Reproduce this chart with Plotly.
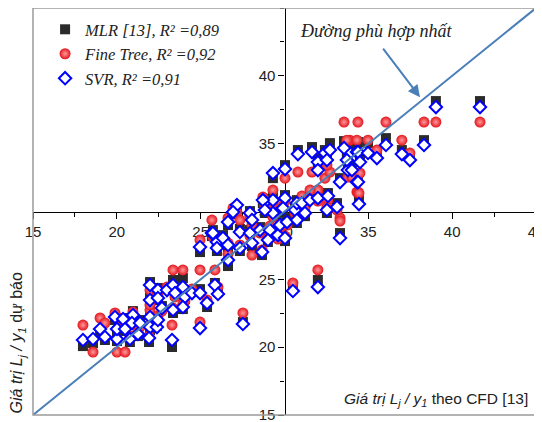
import plotly.graph_objects as go

# CFD reference values (x) and predictions of the three models
cfd = [17.98, 18.58, 19.00, 19.29, 20.01, 20.01, 19.89, 20.37, 20.49, 20.78,
       20.96, 20.90, 21.26, 21.38, 21.98, 21.98, 21.92, 22.39, 22.45, 22.69,
       21.98, 21.98, 22.45, 22.99, 23.35, 22.45, 23.47, 23.94, 24.06, 23.94,
       23.35, 23.29, 24.96, 24.48, 24.96, 25.85, 26.03, 25.38, 27.52, 24.96,
       25.67, 25.97, 25.97, 26.33, 26.63, 26.63, 26.63, 27.16, 27.34, 27.34,
       27.94, 28.06, 27.94, 28.06, 28.66, 28.54, 28.83, 29.31, 29.31, 29.13,
       29.01, 29.61, 29.73, 30.03, 30.15, 30.62, 30.74, 30.74, 30.03, 25.73,
       26.93, 30.80, 31.64, 32.41, 32.71, 31.99, 32.53, 31.99, 29.31, 30.03,
       33.31, 33.78, 33.90, 34.32, 34.32, 28.71, 31.04, 31.52, 31.99, 32.59,
       33.13, 32.53, 31.22, 29.91, 28.83, 33.55, 34.38, 34.98, 36.05, 35.51,
       37.00, 37.48, 38.32, 39.03, 41.66, 34.02, 34.38, 34.50, 33.72, 33.31,
       34.44, 30.50, 31.99]

svr = [20.53, 20.60, 21.34, 20.75, 20.60, 21.34, 22.22, 22.07, 21.34, 20.60,
       22.37, 21.78, 20.97, 21.78, 22.22, 21.48, 20.67, 21.48, 22.00, 22.88,
       23.47, 24.58, 24.21, 24.21, 24.58, 23.62, 23.99, 24.43, 23.70, 22.96,
       22.74, 20.53, 21.41, 23.99, 23.99, 24.58, 23.92, 23.25, 21.71, 27.38,
       28.41, 27.75, 27.31, 28.04, 27.53, 26.42, 29.22, 30.47, 28.49, 27.31,
       29.89, 29.37, 28.41, 27.67, 27.01, 28.63, 30.70, 30.84, 29.89, 28.63,
       27.90, 28.26, 29.00, 28.04, 29.22, 30.11, 29.37, 30.62, 30.99, 28.41,
       29.96, 34.23, 34.38, 34.31, 34.53, 33.64, 33.79, 33.05, 32.83, 33.13,
       32.17, 33.05, 34.31, 34.38, 32.17, 30.84, 30.62, 30.84, 30.99, 31.14,
       30.33, 30.11, 29.89, 30.25, 30.11, 34.68, 34.38, 34.31, 34.90, 33.94,
       34.23, 33.79, 34.90, 37.70, 37.70, 33.05, 32.17, 33.64, 33.79, 28.04,
       30.55, 24.14, 24.43]

mlr = [20.08, 20.31, 21.04, 20.53, 20.45, 21.19, 22.00, 22.15, 21.19, 20.38,
       22.66, 21.63, 20.82, 22.00, 22.44, 21.26, 20.38, 21.56, 22.15, 23.03,
       23.70, 24.80, 24.36, 24.28, 24.95, 23.47, 23.84, 25.10, 23.55, 22.81,
       22.52, 20.01, 21.63, 24.14, 24.28, 24.73, 24.06, 22.96, 21.85, 27.01,
       28.19, 27.60, 27.09, 28.26, 27.31, 25.98, 29.00, 30.25, 28.71, 27.09,
       30.03, 29.15, 28.63, 27.45, 26.79, 28.85, 30.92, 31.06, 30.03, 28.41,
       27.75, 28.49, 29.22, 27.82, 29.52, 30.33, 29.15, 30.84, 31.21, 28.63,
       29.81, 34.53, 34.75, 34.53, 35.04, 33.94, 34.01, 33.20, 32.46, 33.42,
       32.46, 33.42, 34.53, 34.60, 32.46, 30.62, 30.84, 31.06, 31.21, 31.36,
       30.62, 29.89, 29.66, 29.96, 29.89, 35.19, 35.12, 35.04, 35.41, 34.16,
       34.53, 34.01, 35.26, 38.14, 38.14, 33.42, 32.39, 33.94, 34.01, 28.41,
       30.99, 24.43, 24.95]

tree = [21.63, 19.64, 22.15, 21.78, 19.64, 22.22, 22.52, 21.93, 19.64, 20.82,
        22.59, 21.85, 21.19, 21.48, 22.74, 21.63, 20.82, 21.93, 22.30, 22.66,
        23.11, 24.21, 24.06, 24.43, 25.69, 23.84, 23.70, 25.69, 23.40, 23.18,
        22.88, 21.63, 21.85, 24.28, 25.69, 25.69, 24.43, 23.47, 22.52, 27.90,
        29.37, 28.04, 27.45, 27.82, 27.67, 26.86, 29.52, 29.96, 29.37, 27.53,
        29.66, 29.00, 28.19, 26.79, 27.16, 28.41, 30.47, 30.62, 29.59, 28.93,
        28.04, 27.97, 28.78, 28.19, 29.00, 29.89, 29.52, 30.40, 30.77, 28.12,
        30.25, 32.91, 32.91, 32.46, 32.91, 31.58, 33.42, 31.58, 31.58, 32.46,
        29.52, 32.54, 35.26, 35.26, 31.43, 31.06, 31.14, 31.58, 30.77, 30.84,
        30.11, 30.33, 30.25, 30.40, 30.40, 36.59, 36.59, 35.26, 36.59, 34.53,
        35.26, 34.31, 36.59, 36.59, 36.59, 32.54, 31.43, 32.83, 35.26, 29.30,
        31.36, 24.73, 25.69]

names = ["<i>MLR [13], R² =0,89</i>",
         "<i>Fine Tree, R² =0,92</i>",
         "<i>SVR, R² =0,91</i>"]
fit_line = [15, 45]
x_ticks = [15, 20, 25, 30, 35, 40, 45]
y_ticks = [15, 20, 25, 30, 35, 40]

fig = go.Figure()
fig.add_trace(go.Scatter(
    x=cfd, y=mlr, mode="markers", name=names[0], legendgroup="a",
    marker=dict(symbol="square", size=10, color="#2b2b2b",
                line=dict(width=0))))
fig.add_trace(go.Scatter(
    x=cfd, y=tree, mode="markers", name=names[1], legendgroup="b",
    marker=dict(symbol="circle", size=11, color="#e3141c",
                gradient=dict(type="radial", color="#ff9a9a"),
                line=dict(width=0))))
fig.add_trace(go.Scatter(
    x=cfd, y=svr, mode="markers", name=names[2], legendgroup="c",
    marker=dict(symbol="diamond", size=9.5, color="white",
                line=dict(width=2, color="#0000ff"))))
fig.add_trace(go.Scatter(
    x=fit_line, y=fit_line, mode="lines", showlegend=False,
    line=dict(color="#4a7fb8", width=2), hoverinfo="skip"))

axis_common = dict(
    showgrid=False, zeroline=False, showline=True, linecolor="black",
    linewidth=1.3, ticks="outside", tickcolor="black", tickwidth=1.3,
    ticklen=6, anchor="free", position=0.5, layer="below traces",
    tickfont=dict(family="Liberation Sans, Arial", size=15, color="#222"),
    ticklabeloverflow="allow", automargin=False,
    minor=dict(ticks="outside", ticklen=4, tickcolor="black",
               tickwidth=1.3, dtick=2.5),
)
fig.update_xaxes(range=[15, 45], tickvals=x_ticks, **axis_common)
fig.update_yaxes(range=[15, 45], tickvals=y_ticks, **axis_common)

fig.add_shape(type="rect", xref="paper", yref="paper", x0=0, y0=0, x1=1, y1=1,
              line=dict(color="#9a9a9a", width=1.5), layer="above")

fig.add_annotation(x=38.08, y=38.43, xref="x", yref="y", text="",
                   showarrow=True, arrowhead=2, arrowsize=1.2, arrowwidth=2,
                   arrowcolor="#4a7fb8", ax=-38, ay=-50)
fig.add_annotation(x=35.5, y=43.3, xref="x", yref="y",
                   text="<i>Đường phù hợp nhất</i>", showarrow=False,
                   font=dict(family="Liberation Serif", size=18, color="#222"))
fig.add_annotation(x=0.988, y=0.037, xref="paper", yref="paper",
                   xanchor="right", yanchor="middle", showarrow=False,
                   text="<i>Giá trị L<sub>j</sub> / y<sub>1</sub></i> theo CFD [13]",
                   font=dict(family="Liberation Sans", size=15.5, color="#222"))
fig.add_annotation(x=-0.030, y=0.0, xref="paper", yref="paper",
                   xanchor="center", yanchor="bottom", showarrow=False,
                   textangle=-90,
                   text="<i>Giá trị L<sub>j</sub> / y<sub>1</sub></i> dự báo",
                   font=dict(family="Liberation Sans", size=16, color="#222"))

# the page body adds an 8 px offset, so the figure is sized to fit the window
fig.update_layout(
    width=534, height=414,
    margin=dict(l=25, r=6, t=0, b=7, autoexpand=False),
    paper_bgcolor="white", plot_bgcolor="white",
    showlegend=True,
    legend=dict(x=0.024, y=0.99, xanchor="left", yanchor="top",
                bgcolor="rgba(0,0,0,0)", borderwidth=0,
                font=dict(family="Liberation Serif", size=16.5, color="#222"),
                itemwidth=30, tracegroupgap=0),
)

fig.write_html("out.html")
